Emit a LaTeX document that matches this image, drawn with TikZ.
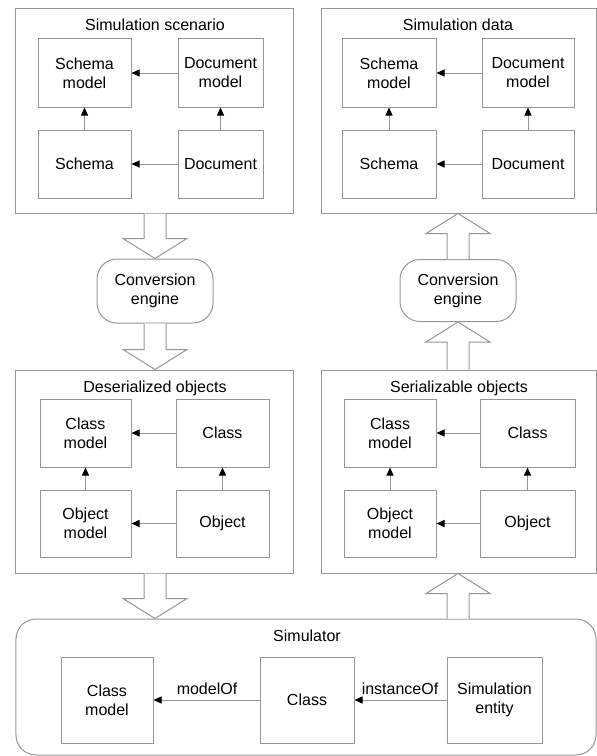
\documentclass[tikz,border=0pt]{standalone}
\usepackage{fontspec}
\setmainfont{Liberation Sans}
\usetikzlibrary{arrows.meta,calc}
\definecolor{lg}{RGB}{150,150,150}
\newcommand\hollowdown[2]{\draw[bigarr] let \p1=(#1),\p2=(#2) in (\x2-11bp,\y1) -- (\x2-11bp,\y2+20bp) -- (\x2-32bp,\y2+20bp) -- (\x2,\y2) -- (\x2+32bp,\y2+20bp) -- (\x2+11bp,\y2+20bp) -- (\x2+11bp,\y1);}
\newcommand\hollowup[2]{\draw[bigarr] let \p1=(#1),\p2=(#2) in (\x2-11bp,\y1) -- (\x2-11bp,\y2-20bp) -- (\x2-32bp,\y2-20bp) -- (\x2,\y2) -- (\x2+32bp,\y2-20bp) -- (\x2+11bp,\y2-20bp) -- (\x2+11bp,\y1);}
\tikzset{
  ibox/.style={draw=lg, line width=1bp, fill=white, align=center, inner sep=0pt, minimum height=68bp},
  outer/.style={draw=lg, line width=1bp, inner sep=0pt},
  conv/.style={draw=lg, line width=1bp, rounded corners=20bp, align=center, inner sep=0pt, minimum width=116bp},
  sarr/.style={draw=lg, line width=1bp, -{Triangle[length=8bp,width=7bp,color=black]}},
  bigarr/.style={draw=lg, line width=1bp, fill=white},
  ttl/.style={anchor=base, inner sep=0pt},
}
\begin{document}
\begin{tikzpicture}[x=1bp, y=-1bp, font=\fontsize{16bp}{19bp}\selectfont]
\useasboundingbox (0,0) rectangle (597,756);
% outer boxes
\node[outer, minimum width=277bp, minimum height=204bp] (TL) at (154.5,111) {};
\node[outer, minimum width=275bp, minimum height=204bp] (TR) at (458.5,111) {};
\node[outer, minimum width=277bp, minimum height=203bp] (ML) at (154.5,471.5) {};
\node[outer, minimum width=275bp, minimum height=203bp] (MR) at (458.5,471.5) {};
\node[outer, rounded corners=20bp, minimum width=580bp, minimum height=136bp] (SIM) at (306,687) {};
% titles
\node[ttl] (TLt) at (155,31) {Simulation scenario};
\node[ttl] (TRt) at (458,31) {Simulation data};
\node[ttl] (MLt) at (155,392) {Deserialized objects};
\node[ttl] (MRt) at (459,392) {Serializable objects};
\node[ttl] (SIMt) at (307,641) {Simulator};
% top left
\node[ibox, minimum width=93bp] (tlsm) at (84.5,73) {Schema\\model};
\node[ibox, minimum width=85bp] (tldm) at (220.5,73) {Document\\model};
\node[ibox, minimum width=93bp] (tls) at (84.5,164) {Schema};
\node[ibox, minimum width=85bp] (tld) at (220.5,164) {Document};
% top right
\node[ibox, minimum width=94bp] (trsm) at (389,73) {Schema\\model};
\node[ibox, minimum width=92bp] (trdm) at (528,73) {Document\\model};
\node[ibox, minimum width=94bp] (trs) at (389,164) {Schema};
\node[ibox, minimum width=92bp] (trd) at (528,164) {Document};
% middle left
\node[ibox, minimum width=91bp] (mlcm) at (85.5,433) {Class\\model};
\node[ibox, minimum width=93bp] (mlc) at (222.5,433) {Class};
\node[ibox, minimum width=91bp, minimum height=67bp] (mlom) at (85.5,523.5) {Object\\model};
\node[ibox, minimum width=93bp, minimum height=67bp] (mlo) at (222.5,523.5) {Object};
% middle right
\node[ibox, minimum width=92bp] (mrcm) at (390,433) {Class\\model};
\node[ibox, minimum width=95bp] (mrc) at (527.5,433) {Class};
\node[ibox, minimum width=92bp, minimum height=67bp] (mrom) at (390,523.5) {Object\\model};
\node[ibox, minimum width=95bp, minimum height=67bp] (mro) at (527.5,523.5) {Object};
% conversion engines
\node[conv, minimum height=64bp] (cvl) at (155,291) {Conversion\\engine};
\node[conv, minimum height=62bp] (cvr) at (458,290.5) {Conversion\\engine};
% simulator
\node[ibox, minimum width=92bp, minimum height=86bp] (scm) at (107,700) {Class\\model};
\node[ibox, minimum width=94bp, minimum height=86bp] (sc) at (307,700) {Class};
\node[ibox, minimum width=95bp, minimum height=86bp] (se) at (494.5,700) {Simulation\\entity};
% small arrows
\foreach \a/\b in {tldm/tlsm, tld/tls, trdm/trsm, trd/trs, mlc/mlcm, mlo/mlom, mrc/mrcm, mro/mrom, sc/scm, se/sc}
  \draw[sarr] (\a.west) -- (\b.east);
\foreach \a/\b in {tls/tlsm, tld/tldm, trs/trsm, trd/trdm, mlom/mlcm, mlo/mlc, mrom/mrcm, mro/mrc}
  \draw[sarr] (\a.north) -- (\b.south);
\node[ttl] (lmo) at (207,694) {modelOf};
\node[ttl] (lio) at (400,694) {instanceOf};
% hollow arrows
\coordinate (simL) at (cvl |- SIM.north);
\coordinate (simR) at (cvr |- SIM.north);
\coordinate (mlS) at (cvl |- ML.south);
\coordinate (mrS) at (cvr |- MR.south);
\hollowdown{TL.south}{cvl.north}
\hollowdown{cvl.south}{cvl |- ML.north}
\hollowdown{mlS}{simL}
\hollowup{simR}{mrS}
\hollowup{cvr |- MR.north}{cvr.south}
\hollowup{cvr.north}{cvr |- TR.south}
\end{tikzpicture}
\end{document}
